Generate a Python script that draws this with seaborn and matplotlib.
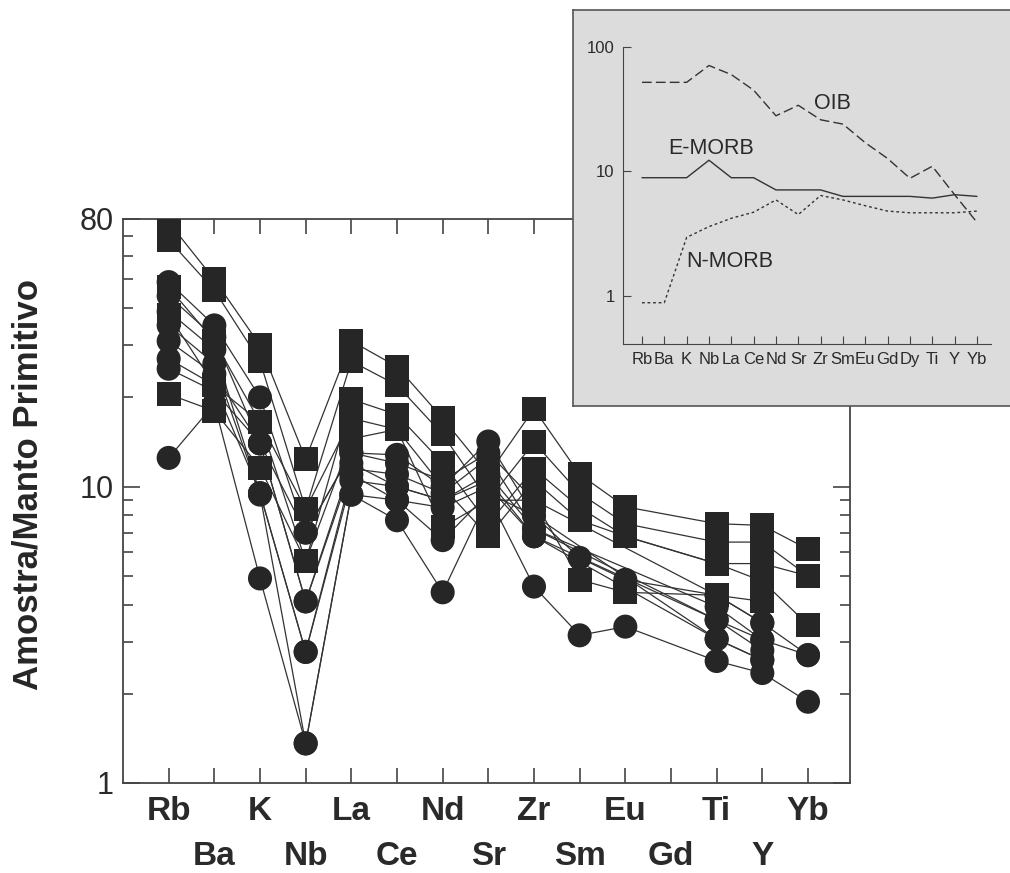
import numpy as np
import pandas as pd
import matplotlib
matplotlib.use('Agg')
import matplotlib.pyplot as plt
import seaborn as sns
from matplotlib.ticker import FixedLocator, NullFormatter, NullLocator

sns.set_style('ticks')
plt.rcParams['font.family'] = ['Liberation Sans', 'DejaVu Sans']
plt.rcParams['text.color'] = '#2a2a2a'
plt.rcParams['xtick.labelcolor'] = '#2a2a2a'
plt.rcParams['ytick.labelcolor'] = '#2a2a2a'

# elementos do diagrama multielementar (Gd sem dados)
elementos = ['Rb', 'Ba', 'K', 'Nb', 'La', 'Ce', 'Nd', 'Sr', 'Zr', 'Sm', 'Eu', 'Gd', 'Ti', 'Y', 'Yb']
nan = np.nan

# amostras com simbolo quadrado
q1 = [78, 50, 30, 12.4, 31, 25.4, 17, 11, 18.3, 11, 8.55, nan, 7.5, 7.4, 6.15]
q2 = [68, 46, 26.5, 8.4, 26.5, 22, 15, 9, 14.1, 9.5, 7.5, nan, 6.5, 6.5, 5.0]
q3 = [47, 31, 16.5, 5.6, 19.7, 17.5, 12, 7.5, 11.5, 8.5, 6.8, nan, 5.5, 5.5, 5.0]
q4 = [20.5, 18, 11.6, 5.6, 14.5, 15.6, 10, 6.8, 10.5, 7.7, 6.8, nan, 5.5, 4.8, 3.42]
q5 = [38, 22, 16.5, 8.4, 17, 15.6, 7.3, 9, 9, 4.85, 4.4, nan, 4.3, 4.1, nan]

# amostras com simbolo circulo
c1 = [49, 35, 20, 7.0, 13, 12.8, 10, 14.2, 8, 5.75, 4.85, nan, 4.3, 3.47, 2.7]
c2 = [44, 32, 14, 4.1, 11.5, 11, 9.5, 12.5, 7.2, nan, nan, nan, 3.93, 3.04, 2.7]
c3 = [39, 29, 9.5, 2.77, 10.5, 10, 9, 10.5, 6.8, nan, nan, nan, 3.55, 2.8, nan]
c4 = [35, 26, 9.4, 1.36, 9.4, 9, 6.6, 9.5, 8, nan, nan, nan, 3.06, 2.6, nan]
c5 = [12.5, 19, 4.9, 1.36, 9.4, 7.7, 4.4, 9.3, 4.6, 3.15, 3.37, nan, 2.58, 2.35, 1.88]
c6 = [31, 24, 14, 4.1, 12, 10, 9, 11, 7.2, nan, nan, nan, 3.55, 3.04, nan]
c7 = [27, 22, 9.5, 2.77, 11, 9, 8.5, 10, 6.8, nan, nan, nan, 3.06, 2.6, nan]
c8 = [25, 21, 14, 7.0, 13, 12, 10.5, 13, 9, nan, nan, nan, 4.3, 3.47, nan]

# curvas de referencia (detalhe)
elem_ref = ['Rb', 'Ba', 'K', 'Nb', 'La', 'Ce', 'Nd', 'Sr', 'Zr', 'Sm', 'Eu', 'Gd', 'Dy', 'Ti', 'Y', 'Yb']
oib = [52, 52, 52, 71, 60, 45, 28, 34, 26, 24, 17, 12.7, 8.8, 11, 6.5, 3.9]
e_morb = [8.9, 8.9, 8.9, 12.3, 8.9, 8.9, 7.1, 7.1, 7.1, 6.3, 6.3, 6.3, 6.3, 6.1, 6.5, 6.3]
n_morb = [0.88, 0.88, 2.95, 3.6, 4.2, 4.7, 5.9, 4.5, 6.4, 5.9, 5.3, 4.8, 4.65, 4.65, 4.65, 4.8]

amostras = [('q1', 'quadrado', q1), ('q2', 'quadrado', q2), ('q3', 'quadrado', q3),
            ('q4', 'quadrado', q4), ('q5', 'quadrado', q5),
            ('c1', 'circulo', c1), ('c2', 'circulo', c2), ('c3', 'circulo', c3),
            ('c4', 'circulo', c4), ('c5', 'circulo', c5), ('c6', 'circulo', c6),
            ('c7', 'circulo', c7), ('c8', 'circulo', c8)]

linhas = []
for nome, forma, vals in amostras:
    for i, v in enumerate(vals):
        linhas.append({'amostra': nome, 'forma': forma, 'pos': i + 1, 'valor': v})
df = pd.DataFrame(linhas).dropna()

fig = plt.figure(figsize=(10.1, 8.73), dpi=100)
ax = fig.add_axes([123 / 1010, 90 / 873, 727 / 1010, 564 / 873])
ax.set_yscale('log')

sns.lineplot(data=df, x='pos', y='valor', units='amostra', estimator=None,
             color='#333333', linewidth=0.9, legend=False, ax=ax)
sns.scatterplot(data=df, x='pos', y='valor', style='forma',
                markers={'quadrado': 's', 'circulo': 'o'}, s=300,
                color='#262626', linewidth=0, legend=False, ax=ax, zorder=3)

ax.set_xlim(0, 15.92)
ax.set_ylim(1, 80)
ax.set_xticks(range(1, 16))
ax.set_xticklabels(elementos, fontsize=24, fontweight='bold')
ax.set_yticks([1, 10, 80])
ax.set_yticklabels(['1', '10', '80'], fontsize=22)
ax.yaxis.set_minor_locator(FixedLocator([2, 3, 4, 5, 6, 7, 8, 9, 20, 30, 40, 50, 60, 70]))
ax.yaxis.set_minor_formatter(NullFormatter())
ax.tick_params(which='both', direction='in', top=True, right=True, color='#444444', width=1.2)
ax.tick_params(axis='x', which='major', length=11, pad=9)
ax.tick_params(axis='y', which='major', length=12, pad=7)
ax.tick_params(axis='y', which='minor', length=7)
for i, t in enumerate(ax.xaxis.get_major_ticks()):
    if i % 2 == 1:
        t.set_pad(42)
for sp in ax.spines.values():
    sp.set_color('#444444')
    sp.set_linewidth(1.3)
ax.set_xlabel('')
ax.set_ylabel('Amostra/Manto Primitivo', fontsize=25, fontweight='bold')
ax.yaxis.label.set_va('center')
ax.yaxis.set_label_coords((28 - 123) / 727, (783 - 485) / 564)

# quadro de detalhe com as curvas de referencia
box = fig.add_axes([573 / 1010, 1 - 406 / 873, 0.5, 396 / 873])
box.set_facecolor('#dcdcdc')
box.set_xticks([])
box.set_yticks([])
for sp in box.spines.values():
    sp.set_color('#555555')
    sp.set_linewidth(1.2)

ins = fig.add_axes([623 / 1010, 1 - 344 / 873, 368 / 1010, 297 / 873])
ins.patch.set_alpha(0)
ins.set_yscale('log')
pos_ref = list(range(1, len(elem_ref) + 1))
sns.lineplot(x=pos_ref, y=oib, color='#333333', linewidth=1, linestyle=(0, (7, 3)), ax=ins)
sns.lineplot(x=pos_ref, y=e_morb, color='#333333', linewidth=1, ax=ins)
sns.lineplot(x=pos_ref, y=n_morb, color='#333333', linewidth=1, linestyle=(0, (2, 2)), ax=ins)
ins.set_xlim(0.15, 16.63)
ins.set_ylim(0.41, 100)
ins.set_xticks(pos_ref)
ins.set_xticklabels(elem_ref, fontsize=12)
ins.set_yticks([1, 10, 100])
ins.set_yticklabels(['1', '10', '100'], fontsize=12)
ins.yaxis.set_minor_locator(NullLocator())
ins.tick_params(direction='in', length=6, color='#444444', pad=6)
ins.spines['top'].set_visible(False)
ins.spines['right'].set_visible(False)
for s in ['left', 'bottom']:
    ins.spines[s].set_color('#444444')
ins.text(9.55, 35, 'OIB', fontsize=15.5, ha='center', va='center')
ins.text(4.09, 15.2, 'E-MORB', fontsize=15.5, ha='center', va='center')
ins.text(4.94, 1.89, 'N-MORB', fontsize=15.5, ha='center', va='center')

fig.savefig('out.png', dpi=100)
